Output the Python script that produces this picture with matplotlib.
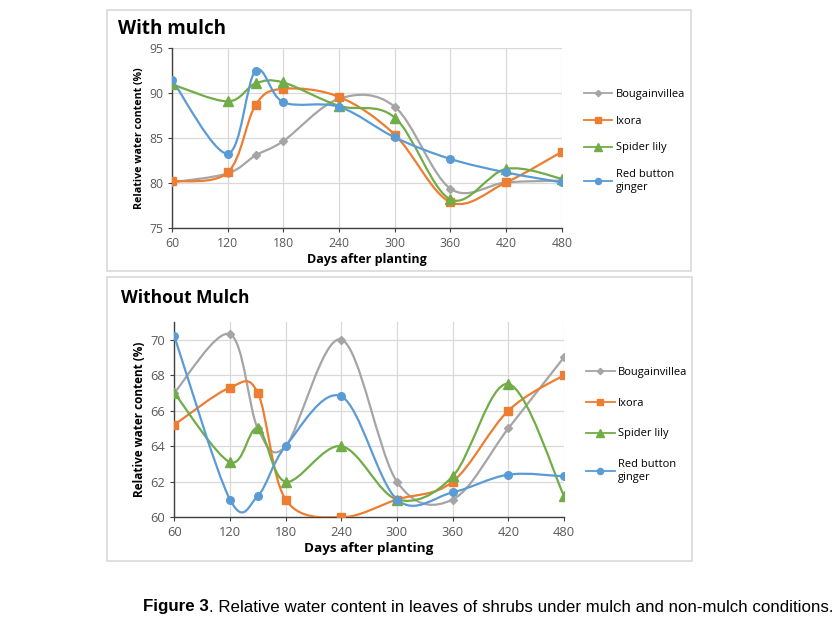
import matplotlib
matplotlib.use("Agg")
import matplotlib.pyplot as plt
from matplotlib.path import Path
from matplotlib.patches import PathPatch, Rectangle
from matplotlib.lines import Line2D

days = [60, 120, 150, 180, 240, 300, 360, 420, 480]
species = ["Bougainvillea", "Ixora", "Spider lily", "Red button\nginger"]

# with mulch
mulch_bougainvillea = [80.1, 81.1, 83.1, 84.7, 89.4, 88.5, 79.4, 80.1, 80.3]
mulch_ixora = [80.2, 81.2, 88.7, 90.5, 89.6, 85.4, 77.9, 80.1, 83.5]
mulch_spider = [91.0, 89.1, 91.1, 91.2, 88.6, 87.3, 78.2, 81.6, 80.5]
mulch_ginger = [91.5, 83.3, 92.5, 89.0, 88.5, 85.1, 82.7, 81.2, 80.1]

# without mulch
bare_bougainvillea = [67.0, 70.3, 65.0, 64.0, 70.0, 62.0, 61.0, 65.0, 69.0]
bare_ixora = [65.2, 67.3, 67.0, 61.0, 60.0, 61.0, 62.0, 66.0, 68.0]
bare_spider = [67.0, 63.1, 65.0, 62.0, 64.0, 61.0, 62.3, 67.5, 61.2]
bare_ginger = [70.2, 61.0, 61.2, 64.0, 66.8, 61.0, 61.4, 62.4, 62.3]

colors = ["#A5A5A5", "#ED7D31", "#70AD47", "#5B9BD5"]
markers = ["D", "s", "^", "o"]
msizes = [4, 5.5, 7, 5.5]

plt.rcParams["font.family"] = ["Open Sans", "DejaVu Sans"]


def smooth_path(x, y):
    # excel style smoothed line: cubic bezier through every point
    n = len(x)
    verts = [(x[0], y[0])]
    codes = [Path.MOVETO]
    for i in range(n - 1):
        i0 = max(i - 1, 0)
        i3 = min(i + 2, n - 1)
        c1 = (x[i] + (x[i + 1] - x[i0]) / 6, y[i] + (y[i + 1] - y[i0]) / 6)
        c2 = (x[i + 1] - (x[i3] - x[i]) / 6, y[i + 1] - (y[i3] - y[i]) / 6)
        verts += [c1, c2, (x[i + 1], y[i + 1])]
        codes += [Path.CURVE4] * 3
    return Path(verts, codes)


def draw_panel(ax, series, ylim, yticks, tick_size, label_size, xlabel_size, leg_y, leg_space):
    for vals, c, m, ms in zip(series, colors, markers, msizes):
        ax.add_patch(PathPatch(smooth_path(days, vals), fill=False, edgecolor=c, lw=1.6, zorder=3))
        ax.plot(days, vals, linestyle="none", marker=m, color=c, markersize=ms, zorder=4)
    ax.set_xlim(60, 480)
    ax.set_ylim(*ylim)
    ax.set_xticks(range(60, 481, 60))
    ax.set_yticks(yticks)
    ax.grid(True, color="#D9D9D9", lw=0.9)
    ax.set_axisbelow(True)
    for s in ["top", "right"]:
        ax.spines[s].set_visible(False)
    for s in ["left", "bottom"]:
        ax.spines[s].set_color("#404040")
        ax.spines[s].set_linewidth(1.0)
    ax.tick_params(labelsize=tick_size, colors="#404040", length=3, width=0.8, labelcolor="#595959")
    ax.set_xlabel("Days after planting", fontsize=xlabel_size, fontweight="bold", labelpad=2)
    ax.set_ylabel("Relative water content (%)", fontsize=label_size, fontweight="bold", labelpad=3)
    handles = [Line2D([0], [0], color=c, marker=m, markersize=ms * 0.8, lw=1.3)
               for c, m, ms in zip(colors, markers, msizes)]
    ax.legend(handles, species, loc="upper left", bbox_to_anchor=(1.03, leg_y), frameon=False,
              fontsize=8, labelspacing=leg_space, handlelength=2.6, handletextpad=0.3)


fig = plt.figure(figsize=(8.33, 6.28), dpi=100)

# panel frames
fig.patches.append(Rectangle((107 / 833, 1 - 271 / 628), 584 / 833, 261 / 628, transform=fig.transFigure,
                             fill=False, edgecolor="#D9D9D9", lw=1.2))
fig.patches.append(Rectangle((107 / 833, 1 - 561 / 628), 585 / 833, 284 / 628, transform=fig.transFigure,
                             fill=False, edgecolor="#D9D9D9", lw=1.2))

ax1 = fig.add_axes([0.2065, 0.6365, 0.468, 0.2866])
draw_panel(ax1, [mulch_bougainvillea, mulch_ixora, mulch_spider, mulch_ginger], (75, 95), range(75, 96, 5),
           8.8, 7.7, 9, 0.83, 1.42)
ax2 = fig.add_axes([0.2092, 0.1763, 0.4679, 0.3114])
draw_panel(ax2, [bare_bougainvillea, bare_ixora, bare_spider, bare_ginger], (60, 71), range(60, 71, 2),
           9.3, 8.5, 9.7, 0.82, 1.78)

fig.text(118 / 833, 1 - 29 / 628, "With mulch", fontsize=13.5, fontweight="bold", va="center")
fig.text(121 / 833, 1 - 298 / 628, "Without Mulch", fontsize=12.5, fontweight="bold", va="center")

# caption, sized to span the same width as in the source figure
cap_font = ["Liberation Sans", "DejaVu Sans"]
cap_rest = ". Relative water content in leaves of shrubs under mulch and non-mulch conditions."
t1 = fig.text(143 / 833, 1 - 607 / 628, "Figure 3", fontsize=13, fontweight="bold", family=cap_font, va="center")
t2 = fig.text(0.5, 1 - 607 / 628, cap_rest, fontsize=13, family=cap_font, va="center")
fig.canvas.draw()
total = t1.get_window_extent().width + t2.get_window_extent().width
size = 13 * 686 / total
t1.set_fontsize(size)
t2.set_fontsize(size)
fig.canvas.draw()
bb = t1.get_window_extent()
t2.set_x(bb.x1 / fig.bbox.width)

fig.savefig("out.png", dpi=100)
